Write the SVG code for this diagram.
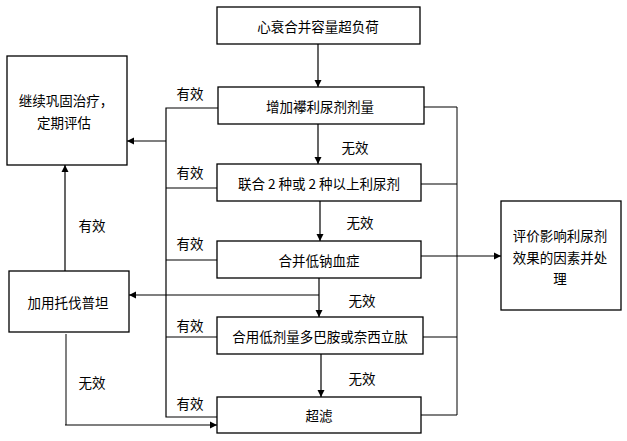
<svg xmlns="http://www.w3.org/2000/svg" width="627" height="441" viewBox="0 0 627 441">
<style>
.box{fill:#fff;stroke:#000;stroke-width:1.3}
.t{font-family:"Noto Sans CJK SC","Liberation Sans",sans-serif;font-size:13.5px;fill:#000;text-anchor:middle;dominant-baseline:central}
.l{fill:none;stroke:#000;stroke-width:1.2}
.g{fill:none;stroke:#808080;stroke-width:2}
</style>
<defs>
<marker id="a" markerWidth="8" markerHeight="8" refX="7" refY="4" orient="auto" markerUnits="userSpaceOnUse">
<path d="M0,0.5 L7,4 L0,7.5 Z" fill="#000"/>
</marker>
</defs>
<rect width="627" height="441" fill="#fff"/>
<g id="connectors">
<line class="l" x1="318" y1="44" x2="318" y2="87" marker-end="url(#a)"/>
<line class="l" x1="318" y1="124" x2="318" y2="164" marker-end="url(#a)"/>
<line class="l" x1="320" y1="201" x2="320" y2="241" marker-end="url(#a)"/>
<line class="l" x1="319" y1="278" x2="319" y2="317" marker-end="url(#a)"/>
<line class="l" x1="321" y1="354" x2="321" y2="397" marker-end="url(#a)"/>
<polyline class="l" points="218,108 166,108 166,417 217,417"/>
<line class="l" x1="166" y1="188" x2="217" y2="188"/>
<line class="l" x1="166" y1="260" x2="217" y2="260"/>
<line class="l" x1="166" y1="337" x2="217" y2="337"/>
<line class="l" x1="166" y1="141" x2="127" y2="141" marker-end="url(#a)"/>
<line class="g" x1="457" y1="107" x2="457" y2="415"/>
<line class="l" x1="424" y1="107" x2="457" y2="107"/>
<line class="l" x1="421" y1="184" x2="457" y2="184"/>
<line class="l" x1="421" y1="256" x2="501" y2="256" marker-end="url(#a)"/>
<line class="l" x1="423" y1="337" x2="457" y2="337"/>
<line class="l" x1="421" y1="415" x2="457" y2="415"/>
<line class="l" x1="319" y1="295" x2="129" y2="295" marker-end="url(#a)"/>
<line class="l" x1="65" y1="271" x2="65" y2="165" marker-end="url(#a)"/>
<line class="g" x1="66" y1="334" x2="66" y2="425"/>
<line class="l" x1="65" y1="425" x2="217" y2="425" marker-end="url(#a)"/>
</g>
<g id="n1"><rect class="box" x="217" y="7" width="203" height="37"/><text class="t" x="318" y="26">心衰合并容量超负荷</text></g>
<g id="n2"><rect class="box" x="218" y="87" width="206" height="37"/><text class="t" x="320" y="106">增加襻利尿剂剂量</text></g>
<g id="n3"><rect class="box" x="217" y="164" width="204" height="37"/><text class="t" x="319" y="183">联合 2 种或 2 种以上利尿剂</text></g>
<g id="n4"><rect class="box" x="217" y="241" width="204" height="37"/><text class="t" x="319" y="260">合并低钠血症</text></g>
<g id="n5"><rect class="box" x="217" y="317" width="206" height="37"/><text class="t" x="320" y="336">合用低剂量多巴胺或奈西立肽</text></g>
<g id="n6"><rect class="box" x="217" y="397" width="204" height="36"/><text class="t" x="319" y="415">超滤</text></g>
<g id="n7"><rect class="box" x="7" y="56" width="120" height="109"/><text class="t" x="66" y="100">继续巩固治疗，</text><text class="t" x="64" y="122">定期评估</text></g>
<g id="n8"><rect class="box" x="9" y="271" width="120" height="61"/><text class="t" x="68" y="302">加用托伐普坦</text></g>
<g id="n9"><rect class="box" x="501" y="201" width="120" height="109"/><text class="t" x="560" y="235">评价影响利尿剂</text><text class="t" x="560" y="257">效果的因素并处</text><text class="t" x="560" y="278">理</text></g>
<g id="labels">
<text class="t" x="190" y="93">有效</text>
<text class="t" x="190" y="172">有效</text>
<text class="t" x="190" y="243">有效</text>
<text class="t" x="190" y="325">有效</text>
<text class="t" x="190" y="403">有效</text>
<text class="t" x="355" y="147">无效</text>
<text class="t" x="360" y="222">无效</text>
<text class="t" x="362" y="300">无效</text>
<text class="t" x="362" y="378">无效</text>
<text class="t" x="92" y="225">有效</text>
<text class="t" x="92" y="382">无效</text>
</g>
</svg>
